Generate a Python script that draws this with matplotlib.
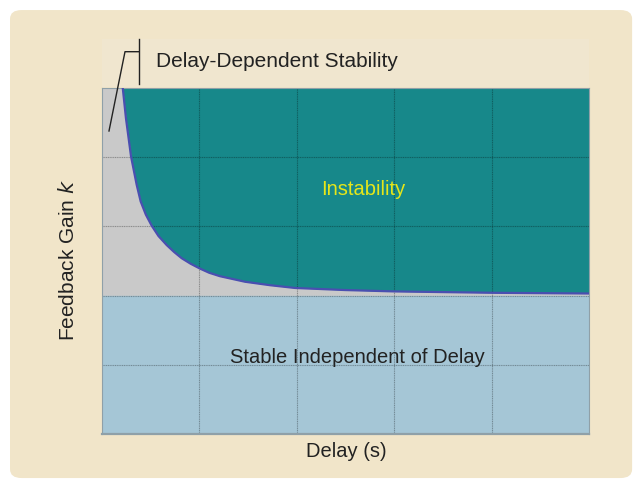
import matplotlib.pyplot as plt
from matplotlib.patches import FancyBboxPatch, Rectangle

plt.rcParams['font.family'] = ['Liberation Sans', 'DejaVu Sans']

# stability boundary
delay = [0.213, 0.246, 0.298, 0.356, 0.397, 0.450, 0.510, 0.580, 0.664, 0.740, 0.818,
         0.910, 1.006, 1.100, 1.211, 1.340, 1.468, 1.725, 1.982, 2.495, 3.008, 4.035, 5.0]
gain = [5.0, 4.56, 4.01, 3.60, 3.36, 3.17, 3.01, 2.86, 2.73, 2.63, 2.54,
        2.46, 2.39, 2.33, 2.28, 2.24, 2.20, 2.15, 2.11, 2.08, 2.06, 2.04, 2.03]
k_indep = 2.0
x_max, y_max = 5, 5
grid_ticks = [1, 2, 3, 4]

fig = plt.figure(figsize=(6.42, 4.88), dpi=100)
fig.patch.set_facecolor('white')

# rounded beige panel
fig.patches.append(FancyBboxPatch((0.0156 + 0.012, 0.0164 + 0.016), 0.969 - 0.024, 0.967 - 0.032,
                                  boxstyle='round,pad=0.012,rounding_size=0.018',
                                  transform=fig.transFigure, facecolor='#f1e5c9',
                                  edgecolor='none', zorder=-2))
# lighter strip above the plot
fig.patches.append(Rectangle((0.1589, 0.822), 0.7586, 0.098, transform=fig.transFigure,
                             facecolor='#f0e6cf', edgecolor='none', zorder=-1))

ax = fig.add_axes([0.1589, 0.1107, 0.7586, 0.709])
ax.set_zorder(1)
ax.set_xlim(0, x_max)
ax.set_ylim(0, y_max)

ax.axhspan(k_indep, y_max, color='#c9c9c9', zorder=0)
ax.axhspan(0, k_indep, color='#a5c6d6', zorder=0)
ax.fill_between(delay, gain, y_max, color='#17888a', zorder=1, linewidth=0)
ax.plot(delay, gain, color='#4a4fb0', linewidth=1.6, zorder=3, solid_joinstyle='round')

for t in grid_ticks:
    ax.axvline(t, color='black', alpha=0.3, linewidth=0.8, linestyle=(0, (1, 0.6)), zorder=2)
    ax.axhline(t, color='black', alpha=0.3, linewidth=0.8, linestyle=(0, (1, 0.6)), zorder=2)

ax.set_xticks([])
ax.set_yticks([])
for s in ax.spines.values():
    s.set_color('#8fa0a8')
    s.set_linewidth(0.8)
ax.spines['bottom'].set_linewidth(1.6)

ax.text(2.68, 3.53, 'Instability', color='#e6e619', fontsize=14.5, ha='center', va='center', zorder=4)
ax.text(2.62, 1.10, 'Stable Independent of Delay', color='#222222', fontsize=14.5,
        ha='center', va='center', zorder=4)

fig.text(0.539, 0.074, 'Delay (s)', fontsize=14.5, ha='center', va='center', color='#222222')
fig.text(0.106, 0.467, 'Feedback Gain $\\it{k}$', fontsize=15, ha='center', va='center',
         rotation=90, color='#222222')

# annotation bracket for delay-dependent region
fig.text(0.2425, 0.873, 'Delay-Dependent Stability', fontsize=15, ha='left', va='center',
         color='#222222')
fig.add_artist(plt.Line2D([109 / 642, 125 / 642, 139.3 / 642],
                          [1 - 131 / 488, 1 - 51.7 / 488, 1 - 51.7 / 488],
                          color='#222222', linewidth=1.0, zorder=5))
fig.add_artist(plt.Line2D([139.3 / 642, 139.3 / 642], [1 - 39.3 / 488, 1 - 84.3 / 488],
                          color='#222222', linewidth=1.0, zorder=5))

fig.savefig('out.png', dpi=100)
